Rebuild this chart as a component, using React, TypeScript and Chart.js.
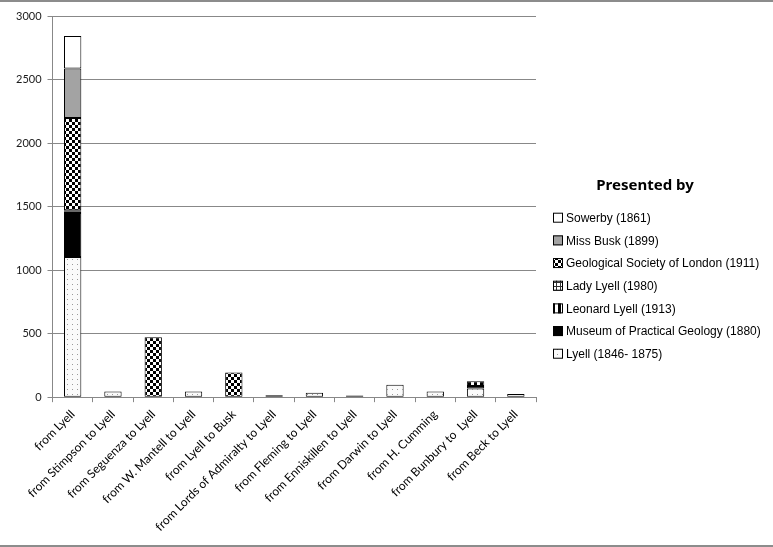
import { useEffect, useRef } from 'react';
import { Chart, registerables } from 'chart.js';

Chart.register(...registerables);

// categories (letters, grouped by sender/recipient)
const categories = [
  'from Lyell',
  'from Stimpson to Lyell',
  'from Seguenza to Lyell',
  'from W. Mantell to Lyell',
  'from Lyell to Busk',
  'from Lords of Admiralty to Lyell',
  'from Fleming to Lyell',
  'from Enniskillen to Lyell',
  'from Darwin to Lyell',
  'from H. Cumming',
  'from Bunbury to  Lyell',
  'from Beck to Lyell',
];

// series values, bottom of stack first
const lyell = [1104, 45, null, 45, null, 15, 35, 14, 98, 45, 68, 25];
const museum = [346, null, null, null, null, null, null, null, null, null, 20, null];
const leonardLyell = [10, null, null, null, null, null, null, null, null, null, 38, null];
const ladyLyell = [11, null, null, null, null, null, null, null, null, null, null, null];
const geolSociety = [727, null, 472, null, 194, null, null, null, null, null, null, null];
const missBusk = [388, null, null, null, null, null, null, null, null, null, null, null];
const sowerby = [257, null, null, null, null, null, null, null, null, null, null, null];

const yTicks = [0, 500, 1000, 1500, 2000, 2500, 3000];
const legendTitle = 'Presented by';

// small helper to build canvas fill patterns
function makePattern(size: number, draw: (c: CanvasRenderingContext2D) => void) {
  const cv = document.createElement('canvas');
  cv.width = size;
  cv.height = size;
  const c = cv.getContext('2d')!;
  draw(c);
  return c.createPattern(cv, 'repeat')!;
}

// the built-in legend gets squeezed to a quarter of the width, so draw it by hand
const presentedByLegend = {
  id: 'presentedByLegend',
  afterDraw(chart: Chart) {
    const c = chart.ctx;
    const x0 = chart.chartArea.right + 17;
    c.save();
    c.textBaseline = 'middle';
    c.fillStyle = '#000000';
    c.font = 'bold 15px "Noto Sans"';
    c.textAlign = 'center';
    c.fillText(legendTitle, x0 + 92, 184);

    const items = chart.data.datasets.slice().reverse();
    items.forEach((d: any, i: number) => {
      const y = 215.7 + i * 22.67;
      c.fillStyle = d.backgroundColor;
      c.fillRect(x0, y - 5, 10, 10);
      c.strokeStyle = '#000000';
      c.lineWidth = 1;
      c.strokeRect(x0 + 0.5, y - 4.5, 9, 9);
      c.fillStyle = '#000000';
      c.textAlign = 'left';
      c.font = '12px "Liberation Sans"';
      c.fillText(d.label, x0 + 13, y + 1);
    });
    c.restore();
  },
};

const App = () => {
  const canvasRef = useRef<HTMLCanvasElement>(null);
  const chartRef = useRef<Chart | null>(null);

  useEffect(() => {
    if (!canvasRef.current) return;
    const ctx = canvasRef.current.getContext('2d');
    if (!ctx) return;

    const dots = makePattern(5, (c) => {
      c.fillStyle = '#fafafa';
      c.fillRect(0, 0, 5, 5);
      c.fillStyle = '#9a9a9a';
      c.fillRect(2, 2, 1, 1);
    });
    const vLines = makePattern(6, (c) => {
      c.fillStyle = '#ffffff';
      c.fillRect(0, 0, 6, 6);
      c.fillStyle = '#000000';
      c.fillRect(0, 0, 3, 6);
    });
    const grid = makePattern(4, (c) => {
      c.fillStyle = '#ffffff';
      c.fillRect(0, 0, 4, 4);
      c.fillStyle = '#333333';
      c.fillRect(0, 0, 4, 1);
      c.fillRect(0, 0, 1, 4);
    });
    const checker = makePattern(6, (c) => {
      c.fillStyle = '#ffffff';
      c.fillRect(0, 0, 6, 6);
      c.fillStyle = '#000000';
      c.fillRect(0, 0, 3, 3);
      c.fillRect(3, 3, 3, 3);
    });

    const base = {
      borderColor: '#000000',
      borderWidth: 1,
      borderSkipped: false as const,
      barPercentage: 0.43,
      categoryPercentage: 1,
    };

    if (chartRef.current) chartRef.current.destroy();

    chartRef.current = new Chart(ctx, {
      type: 'bar',
      data: {
        labels: categories,
        datasets: [
          { ...base, label: 'Lyell (1846- 1875)', data: lyell, backgroundColor: dots },
          { ...base, label: 'Museum of Practical Geology (1880)', data: museum, backgroundColor: '#000000' },
          { ...base, label: 'Leonard Lyell (1913)', data: leonardLyell, backgroundColor: vLines },
          { ...base, label: 'Lady Lyell (1980)', data: ladyLyell, backgroundColor: grid },
          { ...base, label: 'Geological Society of London (1911)', data: geolSociety, backgroundColor: checker },
          { ...base, label: 'Miss Busk (1899)', data: missBusk, backgroundColor: '#a3a3a3' },
          { ...base, label: 'Sowerby (1861)', data: sowerby, backgroundColor: '#ffffff' },
        ],
      },
      options: {
        animation: false,
        responsive: true,
        maintainAspectRatio: false,
        layout: { padding: { top: 14, left: 10, right: 237, bottom: 6 } },
        scales: {
          x: {
            stacked: true,
            grid: {
              display: true,
              drawOnChartArea: false,
              offset: true,
              tickLength: 5,
              color: '#888888',
            },
            border: { color: '#888888' },
            ticks: {
              minRotation: 45,
              maxRotation: 45,
              autoSkip: false,
              color: '#000000',
              padding: 5,
              font: { family: 'Lato', size: 12 },
            },
          },
          y: {
            stacked: true,
            min: 0,
            max: 3000,
            afterBuildTicks: (axis) => {
              axis.ticks = yTicks.map((v) => ({ value: v }));
            },
            grid: { color: '#888888', tickLength: 5 },
            border: { color: '#888888' },
            ticks: {
              color: '#1a1a1a',
              padding: 6,
              font: { family: 'Lato', size: 11 },
              callback: (v) => String(v),
            },
          },
        },
        plugins: {
          tooltip: { enabled: false },
          legend: { display: false },
        },
      },
      plugins: [presentedByLegend],
    });

    return () => {
      if (chartRef.current) {
        chartRef.current.destroy();
        chartRef.current = null;
      }
    };
  }, []);

  return (
    <div
      style={{
        position: 'absolute',
        left: 0,
        top: 0,
        width: 773,
        height: 547,
        boxSizing: 'border-box',
        borderTop: '2px solid #8c8c8c',
        borderBottom: '2px solid #8c8c8c',
        background: '#ffffff',
      }}
    >
      <canvas ref={canvasRef}></canvas>
    </div>
  );
};

export default App;
